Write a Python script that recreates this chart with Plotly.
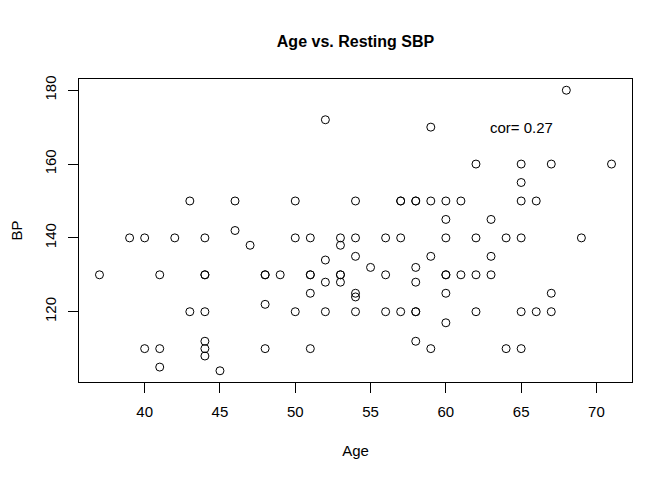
import plotly.graph_objects as go

# Edad y presión sistólica en reposo
age = [37, 39, 40, 40, 41, 41, 41, 42, 43, 43,
       44, 44, 44, 44, 44, 44, 44, 45, 46, 46,
       47, 48, 48, 48, 48, 49, 50, 50, 50, 51,
       51, 51, 51, 51, 52, 52, 52, 52, 53, 53,
       53, 53, 53, 54, 54, 54, 54, 54, 54, 55,
       56, 56, 56, 57, 57, 57, 57, 58, 58, 58,
       58, 58, 58, 58, 59, 59, 59, 59, 60, 60,
       60, 60, 60, 60, 60, 61, 61, 62, 62, 62,
       62, 63, 63, 63, 64, 64, 65, 65, 65, 65,
       65, 65, 66, 66, 67, 67, 67, 68, 69, 71]
bp = [130, 140, 140, 110, 130, 110, 105, 140, 150, 120,
      140, 130, 130, 120, 112, 110, 108, 104, 150, 142,
      138, 130, 130, 122, 110, 130, 150, 140, 120, 140,
      130, 130, 125, 110, 172, 134, 128, 120, 140, 138,
      130, 130, 128, 150, 140, 135, 125, 124, 120, 132,
      140, 130, 120, 150, 150, 140, 120, 150, 150, 132,
      128, 120, 120, 112, 170, 150, 135, 110, 150, 145,
      140, 130, 130, 125, 117, 150, 130, 160, 140, 130,
      120, 145, 135, 130, 140, 110, 160, 155, 150, 140,
      120, 110, 150, 120, 160, 125, 120, 180, 140, 160]

x_ticks = [40, 45, 50, 55, 60, 65, 70]
y_ticks = [120, 140, 160, 180]
cor_text = "cor= 0.27"

fnt = "Liberation Sans, Arial, sans-serif"

fig = go.Figure()
fig.add_trace(go.Scatter(
    x=age, y=bp, mode="markers",
    marker=dict(symbol="circle-open", size=8, color="black",
                line=dict(width=1, color="black")),
    showlegend=False))

# rango estilo R (4% extra)
xr = [min(age) - 0.04 * (max(age) - min(age)), max(age) + 0.04 * (max(age) - min(age))]
yr = [min(bp) - 0.04 * (max(bp) - min(bp)), max(bp) + 0.04 * (max(bp) - min(bp))]

fig.add_annotation(x=65, y=170, text=cor_text, showarrow=False,
                   font=dict(family=fnt, size=15, color="black"))

# la página tiene 8px de margen en el body
fig.update_layout(
    width=664, height=472,
    margin=dict(l=71, r=40, t=71, b=98),
    plot_bgcolor="white", paper_bgcolor="white",
    font=dict(family=fnt, size=15, color="black"),
    title=dict(text="<b>Age vs. Resting SBP</b>", x=0.5, xref="paper",
               y=1 - 33 / 472, yanchor="middle",
               font=dict(family=fnt, size=16, color="black")),
    xaxis=dict(range=xr, tickvals=x_ticks, ticks="outside", ticklen=10,
               tickcolor="black", showgrid=False, zeroline=False,
               showline=True, linecolor="black", mirror=True,
               ticklabelstandoff=6, automargin=False,
               title=dict(text="Age", standoff=26, font=dict(size=15))),
    yaxis=dict(range=yr, tickvals=y_ticks, ticks="outside", ticklen=10,
               tickcolor="black", showgrid=False, zeroline=False,
               showline=True, linecolor="black", mirror=True,
               tickangle=-90, ticklabelstandoff=6, automargin=False,
               title=dict(text="BP", standoff=20, font=dict(size=15))),
)

fig.write_html("out.html")
